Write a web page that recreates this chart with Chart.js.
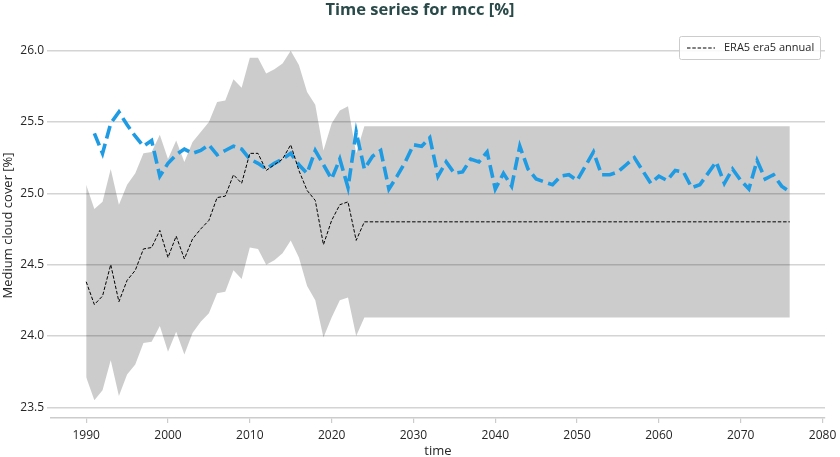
<!DOCTYPE html>
<html>
<head>
<meta charset="utf-8">
<script src="https://cdn.jsdelivr.net/npm/chart.js@4/dist/chart.umd.min.js"></script>
<style>
html,body{margin:0;padding:0;background:#fff;}
#wrap{width:840px;height:457px;position:relative;}
</style>
</head>
<body>
<div id="wrap"><canvas id="c" width="840" height="457"></canvas></div>
<script>
// ---- data ----
const bandYears = [1990,1991,1992,1993,1994,1995,1996,1997,1998,1999,2000,2001,2002,2003,2004,2005,2006,2007,2008,2009,2010,2011,2012,2013,2014,2015,2016,2017,2018,2019,2020,2021,2022,2023,2024,2076];
const bandUpper = [25.06,24.89,24.94,25.17,24.92,25.06,25.14,25.28,25.29,25.41,25.24,25.37,25.22,25.36,25.43,25.50,25.64,25.65,25.80,25.74,25.95,25.95,25.84,25.87,25.91,26.00,25.90,25.71,25.62,25.30,25.49,25.58,25.61,25.28,25.47,25.47];
const bandLower = [23.71,23.55,23.62,23.83,23.58,23.73,23.80,23.95,23.96,24.07,23.89,24.03,23.87,24.02,24.10,24.16,24.30,24.31,24.46,24.40,24.62,24.61,24.50,24.53,24.58,24.67,24.55,24.35,24.25,23.99,24.13,24.25,24.27,24.00,24.13,24.13];
const era5Years = bandYears;
const era5Values = [24.38,24.22,24.28,24.50,24.24,24.39,24.46,24.61,24.62,24.74,24.55,24.70,24.54,24.68,24.75,24.81,24.97,24.98,25.13,25.07,25.28,25.28,25.16,25.20,25.24,25.34,25.16,25.02,24.95,24.64,24.81,24.92,24.94,24.67,24.80,24.80];
const modelYears = [1991,1992,1993,1994,1995,1996,1997,1998,1999,2000,2001,2002,2003,2004,2005,2006,2007,2008,2009,2010,2011,2012,2013,2014,2015,2016,2017,2018,2019,2020,2021,2022,2023,2024,2025,2026,2027,2028,2029,2030,2031,2032,2033,2034,2035,2036,2037,2038,2039,2040,2041,2042,2043,2044,2045,2046,2047,2048,2049,2050,2051,2052,2053,2054,2055,2056,2057,2058,2059,2060,2061,2062,2063,2064,2065,2066,2067,2068,2069,2070,2071,2072,2073,2074,2075,2076];
const modelValues = [25.42,25.28,25.49,25.57,25.48,25.40,25.33,25.37,25.12,25.21,25.27,25.31,25.28,25.30,25.34,25.27,25.30,25.33,25.31,25.24,25.21,25.17,25.21,25.24,25.28,25.20,25.14,25.30,25.20,25.10,25.24,25.04,25.43,25.17,25.26,25.30,25.03,25.12,25.22,25.34,25.33,25.39,25.12,25.22,25.14,25.15,25.24,25.22,25.29,25.03,25.14,25.05,25.33,25.17,25.10,25.08,25.06,25.12,25.13,25.09,25.19,25.29,25.13,25.13,25.15,25.20,25.25,25.16,25.07,25.12,25.09,25.16,25.15,25.04,25.06,25.14,25.22,25.07,25.17,25.09,25.03,25.23,25.10,25.13,25.05,25.01];
const xTicks = [1990,2000,2010,2020,2030,2040,2050,2060,2070,2080];
const yTicks = [23.5,24.0,24.5,25.0,25.5,26.0];
const legendLabel = 'ERA5 era5 annual';

const pts = (xs, ys) => xs.map((x, i) => ({x: x, y: ys[i]}));
const FONT = 'Open Sans';
const TXT = '#262626';

const legendPlugin = {
  id: 'boxLegend',
  afterDraw(chart) {
    const ctx = chart.ctx;
    const x0 = 679, y0 = 36, w = 141, h = 23;
    ctx.save();
    ctx.fillStyle = 'rgba(255,255,255,0.85)';
    ctx.strokeStyle = '#cccccc';
    ctx.lineWidth = 1;
    ctx.beginPath();
    if (ctx.roundRect) ctx.roundRect(x0 + 0.5, y0 + 0.5, w, h, 2); else ctx.rect(x0 + 0.5, y0 + 0.5, w, h);
    ctx.fill(); ctx.stroke();
    ctx.strokeStyle = '#000';
    ctx.lineWidth = 1;
    ctx.setLineDash([3.5, 1.8]);
    ctx.beginPath();
    ctx.moveTo(x0 + 8, y0 + 12); ctx.lineTo(x0 + 36, y0 + 12);
    ctx.stroke();
    ctx.setLineDash([]);
    ctx.fillStyle = TXT;
    ctx.font = '11px "' + FONT + '"';
    ctx.textBaseline = 'middle';
    ctx.fillText(legendLabel, x0 + 45, y0 + 12);
    ctx.restore();
  }
};

new Chart(document.getElementById('c'), {
  type: 'line',
  data: {
    datasets: [
      {label: 'upper', data: pts(bandYears, bandUpper), borderWidth: 0, pointRadius: 0, fill: false, borderColor: 'rgba(0,0,0,0)', order: 3},
      {label: 'lower', data: pts(bandYears, bandLower), borderWidth: 0, pointRadius: 0, fill: '-1', backgroundColor: 'rgba(0,0,0,0.2)', borderColor: 'rgba(0,0,0,0)', order: 3},
      {label: 'model', data: pts(modelYears, modelValues), borderColor: '#1e9be3', borderWidth: 3.6, borderDash: [13, 5.5], pointRadius: 0, fill: false, order: 2},
      {label: legendLabel, data: pts(era5Years, era5Values), borderColor: '#000', borderWidth: 1, borderDash: [3.5, 1.8], pointRadius: 0, fill: false, order: 1}
    ]
  },
  options: {
    responsive: false,
    animation: false,
    layout: {padding: {left: 0, right: 0, top: 0, bottom: 0}},
    elements: {line: {tension: 0}},
    plugins: {
      legend: {display: false},
      tooltip: {enabled: false},
      title: {
        display: true,
        text: 'Time series for mcc [%]',
        color: '#2a4a4a',
        font: {family: FONT, size: 16.5, weight: 'bold'},
        padding: {top: 0, bottom: 13}
      }
    },
    scales: {
      x: {
        type: 'linear',
        min: 1985.7,
        max: 2080.3,
        afterBuildTicks: (s) => { s.ticks = xTicks.map(v => ({value: v})); },
        afterFit: (s) => { s.height = 39; s.paddingRight = 15; s.paddingLeft = 0; },
        ticks: {color: TXT, font: {family: FONT, size: 12}, padding: 5, maxRotation: 0, callback: (v) => String(v)},
        grid: {drawOnChartArea: false, drawTicks: true, tickLength: 5, color: '#cccccc', lineWidth: 1.2},
        border: {display: true, color: '#cccccc', width: 1.5},
        title: {display: true, text: 'time', color: TXT, font: {family: FONT, size: 13}, padding: {top: 0, bottom: -2}}
      },
      y: {
        type: 'linear',
        min: 23.425,
        max: 26.125,
        afterBuildTicks: (s) => { s.ticks = yTicks.map(v => ({value: v})); },
        afterFit: (s) => { s.width = 51; },
        ticks: {color: TXT, font: {family: FONT, size: 12}, padding: 3, callback: (v) => v.toFixed(1)},
        grid: {drawOnChartArea: true, drawTicks: true, tickLength: 4, color: '#d4d4d4', lineWidth: 1.5},
        border: {display: false},
        title: {display: true, text: 'Medium cloud cover [%]', color: TXT, font: {family: FONT, size: 13}, padding: {top: 0, bottom: 0}}
      }
    }
  },
  plugins: [legendPlugin]
});
</script>
</body>
</html>
